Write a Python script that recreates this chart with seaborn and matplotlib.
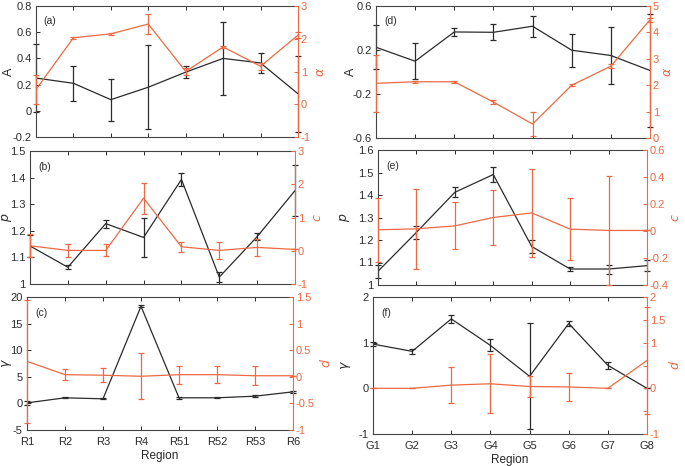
import numpy as np
import matplotlib
matplotlib.use("Agg")
import matplotlib.pyplot as plt
import seaborn as sns
from matplotlib.ticker import FuncFormatter

# --- DATA ---
regions_r = ['R1', 'R2', 'R3', 'R4', 'R51', 'R52', 'R53', 'R6']
regions_g = ['G1', 'G2', 'G3', 'G4', 'G5', 'G6', 'G7', 'G8']

A_r = [0.25, 0.21, 0.085, 0.18, 0.295, 0.40, 0.365, 0.13]
A_r_err = [0.26, 0.135, 0.16, 0.32, 0.047, 0.28, 0.077, 0.29]
alpha_r = [0.45, 2.03, 2.15, 2.45, 1.0, 1.75, 1.16, 2.11]
alpha_r_err = [0.45, 0.03, 0.04, 0.3, 0.1, 0.04, 0.1, 0.1]

p_r = [1.143, 1.063, 1.227, 1.175, 1.393, 1.026, 1.178, 1.351]
p_r_err = [0.04, 0.007, 0.015, 0.074, 0.024, 0.018, 0.012, 0.096]
c_r = [0.15, 0.01, 0.01, 1.58, 0.12, 0.01, 0.10, 0.04]
c_r_err = [0.35, 0.2, 0.18, 0.46, 0.15, 0.25, 0.26, 0.0]

gamma_r = [0.1, 1.05, 0.86, 18.25, 1.05, 1.05, 1.36, 2.17]
gamma_r_err = [0.4, 0.1, 0.1, 0.2, 0.2, 0.1, 0.15, 0.15]
d_r = [0.29, 0.04, 0.03, 0.01, 0.04, 0.04, 0.02, 0.02]
d_r_err = [1.16, 0.1, 0.13, 0.43, 0.17, 0.16, 0.18, 0.0]

A_g = [0.225, 0.098, 0.364, 0.361, 0.416, 0.198, 0.15, 0.014]
A_g_err = [0.2, 0.165, 0.035, 0.074, 0.095, 0.15, 0.26, 0.51]
alpha_g = [2.07, 2.13, 2.13, 1.36, 0.53, 2.0, 2.72, 4.48]
alpha_g_err = [1.09, 0.03, 0.03, 0.07, 0.45, 0.03, 0.07, 0.08]

p_g = [1.061, 1.234, 1.412, 1.491, 1.171, 1.071, 1.071, 1.086]
p_g_err = [0.03, 0.028, 0.023, 0.032, 0.03, 0.01, 0.02, 0.025]
c_g = [0.009, 0.016, 0.038, 0.1, 0.134, 0.014, 0.004, 0.004]
c_g_err = [0.235, 0.295, 0.175, 0.207, 0.328, 0.228, 0.403, 0.0]

gamma_g = [0.969, 0.81, 1.52, 0.94, 0.264, 1.42, 0.504, 0.0]
gamma_g_err = [0.05, 0.05, 0.095, 0.13, 1.16, 0.065, 0.07, 0.0]
d_g = [0.0, 0.0, 0.07, 0.1, 0.04, 0.03, 0.0, 0.61]
d_g_err = [0.0, 0.0, 0.39, 0.65, 0.23, 0.3, 0.0, 1.17]

BLACK = '#2b2b2b'
ORANGE = '#EC6A43'

sns.set_style('ticks')
plt.rcParams['font.family'] = ['Liberation Sans', 'DejaVu Sans']
plt.rcParams['font.size'] = 8
plt.rcParams['mathtext.fontset'] = 'dejavusans'

fmt = FuncFormatter(lambda v, _: f'{round(v, 6) + 0:g}')

W, H = 685, 466
fig = plt.figure(figsize=(W / 100, H / 100), dpi=100)


def rect(x0, y0, x1, y1):
    return [x0 / W, 1 - y1 / H, (x1 - x0) / W, (y1 - y0) / H]


def panel(box, regions, left, left_err, right, right_err, llim, lticks,
          rlim, rticks, llabel, rlabel, tag, bottom, label_x,
          rticklabels=None, rpad=3):
    ax = fig.add_axes(rect(*box))
    x = np.arange(len(regions))
    sns.lineplot(x=x, y=left, ax=ax, color=BLACK, linewidth=0.9)
    ax.errorbar(x, left, yerr=left_err, fmt='none', ecolor=BLACK,
                elinewidth=0.9, capsize=2.2, capthick=0.9, clip_on=False)
    ax.set_xlim(0, len(regions) - 1)
    ax.set_ylim(*llim)
    ax.set_yticks(lticks)
    ax.yaxis.set_major_formatter(fmt)
    ax.set_xticks(x)
    ax.tick_params(axis='both', direction='in', length=3, width=0.7,
                   top=True, right=False, labelsize=8, colors=BLACK)
    ax.tick_params(axis='y', pad=3)
    ax.tick_params(axis='x', pad=5)
    if bottom:
        ax.set_xticklabels(regions)
        ax.set_xlabel('Region', fontsize=8.5, labelpad=2)
    else:
        ax.set_xticklabels([])
    for s in ax.spines.values():
        s.set_linewidth(0.8)
        s.set_color('#444444')
    ax.spines['right'].set_visible(False)
    ax.set_ylabel(llabel, fontsize=9, color=BLACK)
    # right edge of the rotated label, in figure pixels
    ax.yaxis.set_label_coords((label_x - box[0]) / (box[2] - box[0]), 0.5)
    ax.text(0.03, 0.86, tag, transform=ax.transAxes, fontsize=7.5,
            color=BLACK)

    ax2 = ax.twinx()
    sns.lineplot(x=x, y=right, ax=ax2, color=ORANGE, linewidth=0.9)
    ax2.errorbar(x, right, yerr=right_err, fmt='none', ecolor=ORANGE,
                 elinewidth=0.9, capsize=2.2, capthick=0.9, clip_on=False)
    ax2.set_ylim(*rlim)
    ax2.set_yticks(rticks)
    if rticklabels is not None:
        ax2.set_yticklabels(rticklabels)
    else:
        ax2.yaxis.set_major_formatter(fmt)
    ax2.tick_params(axis='y', direction='in', length=3, width=0.7,
                    colors=ORANGE, labelsize=8, pad=2)
    for name in ['left', 'top', 'bottom']:
        ax2.spines[name].set_visible(False)
    ax2.spines['right'].set_color(ORANGE)
    ax2.spines['right'].set_linewidth(0.8)
    ax2.set_ylabel(rlabel, fontsize=9, color=ORANGE, labelpad=rpad)
    return ax, ax2


panel((36, 6, 298, 137), regions_r, A_r, A_r_err, alpha_r, alpha_r_err,
      (-0.2, 0.8), np.arange(-0.2, 0.81, 0.2), (-1, 3), np.arange(-1, 3.1, 1),
      'A', r'$\alpha$', '(a)', False, 15)
panel((30, 151, 295, 284), regions_r, p_r, p_r_err, c_r, c_r_err,
      (1, 1.5), np.arange(1, 1.51, 0.1), (-1, 3), np.arange(-1, 3.1, 1),
      '$p$', '$c$', '(b)', False, 14)
panel((27, 297, 293, 430), regions_r, gamma_r, gamma_r_err, d_r, d_r_err,
      (-5, 20), np.arange(-5, 20.1, 5), (-1, 1.5), np.arange(-1, 1.51, 0.5),
      r'$\gamma$', '$d$', '(c)', True, 14)

panel((376, 6, 650, 138), regions_g, A_g, A_g_err, alpha_g, alpha_g_err,
      (-0.6, 0.6), np.arange(-0.6, 0.61, 0.4), (0, 5), np.arange(0, 5.1, 1),
      'A', r'$\alpha$', '(d)', False, 357, rpad=2)
panel((378, 150, 647, 285), regions_g, p_g, p_g_err, c_g, c_g_err,
      (1, 1.6), np.arange(1, 1.61, 0.1), (-0.4, 0.6), np.arange(-0.4, 0.61, 0.2),
      '$p$', '$c$', '(e)', False, 352, rpad=1)
panel((373, 297, 647, 434), regions_g, gamma_g, gamma_g_err, d_g, d_g_err,
      (-1, 2), np.arange(-1, 2.1, 1), (-1, 2), np.arange(-1, 2.1, 0.5),
      r'$\gamma$', '$d$', '(f)', True, 353,
      rticklabels=['-1', '', '0', '', '1', '1.5', '2'], rpad=2)

fig.savefig('out.png', dpi=100)
